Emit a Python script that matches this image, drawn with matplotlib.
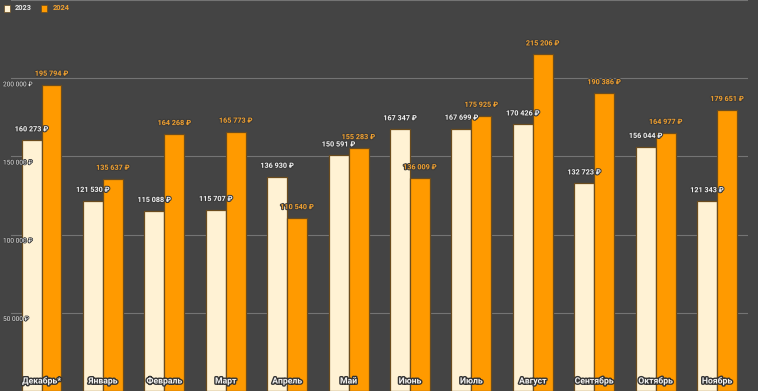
import matplotlib
matplotlib.use("Agg")
import matplotlib.pyplot as plt
import matplotlib.patheffects as pe
import matplotlib.transforms as mtransforms
import numpy as np

plt.rcParams['font.family'] = ['Roboto', 'DejaVu Sans']

months = ["Декабрь*", "Январь", "Февраль", "Март", "Апрель", "Май", "Июнь",
          "Июль", "Август", "Сентябрь", "Октябрь", "Ноябрь"]
series_names = ["2023", "2024"]
v2023 = [160273, 121530, 115088, 115707, 136930, 150591, 167347, 167699,
         170426, 132723, 156044, 121343]
v2024 = [195794, 135637, 164268, 165773, 110540, 155283, 136009, 175925,
         215206, 190386, 164977, 179651]
yticks = [50000, 100000, 150000, 200000, 250000]

BG = "#444444"
C23 = "#fff2d4"
C24 = "#ff9a00"
T23 = "#f2f2f2"
T24 = "#f0a030"
EDGE = "#6b4c1e"

def fmt(v):
    return f"{v:,}".replace(",", " ") + " ₽"

fig = plt.figure(figsize=(7.58, 3.91), dpi=100, facecolor=BG)
ax = fig.add_axes([10.8 / 758, 0.0, (747.7 - 10.8) / 758, 1.0])
ax.set_facecolor(BG)

x = np.arange(len(months))
w = 0.325
ax.bar(x - w / 2, v2023, w, color=C23, edgecolor=EDGE, linewidth=0.9, zorder=3)
ax.bar(x + w / 2, v2024, w, color=C24, edgecolor=EDGE, linewidth=0.9, zorder=3)

ax.set_xlim(-0.5, len(months) - 0.5)
ax.set_ylim(0, 250000)
for sp in ax.spines.values():
    sp.set_visible(False)
ax.set_xticks([])
ax.set_yticks([])

for t in yticks:
    ax.axhline(t, color="#747474", linewidth=0.8, zorder=1)

# y tick labels inside plot
tr = mtransforms.blended_transform_factory(fig.transFigure, ax.transData)
tstroke = [pe.withStroke(linewidth=1.0, foreground="#3a3a3a")]
for t in yticks[:-1]:
    ax.text(3 / 758, t - 2000, fmt(t), transform=tr, ha="left", va="top",
            fontsize=4.7, color="#e8e8e8", zorder=5, path_effects=tstroke)

stroke = [pe.withStroke(linewidth=1.5, foreground="#3a3a3a")]
off = 11 * 250000 / 391
for xi, v in zip(x, v2023):
    ax.text(xi - w / 2, v + off, fmt(v), ha="center", va="center",
            fontsize=5.2, fontweight="bold", color=T23, zorder=6,
            path_effects=stroke)
for xi, v in zip(x, v2024):
    ax.text(xi + w / 2, v + off, fmt(v), ha="center", va="center",
            fontsize=5.2, fontweight="bold", color=T24, zorder=6,
            path_effects=stroke)

# month labels at bottom
trm = mtransforms.blended_transform_factory(ax.transData, fig.transFigure)
mstroke = [pe.withStroke(linewidth=2.0, foreground="#333333")]
for xi, m in zip(x, months):
    ax.text(xi, 1 - 381 / 391, m, transform=trm, ha="center", va="center",
            fontsize=6.2, fontweight="bold", color="#f4f4f4", zorder=7,
            path_effects=mstroke)

# legend
fig.patches.append(plt.Rectangle((4 / 758, 1 - 11.5 / 391), 6 / 758, 6 / 391,
                                 transform=fig.transFigure, facecolor=C23,
                                 edgecolor=EDGE, linewidth=0.5))
fig.text(15 / 758, 1 - 8.5 / 391, series_names[0], fontsize=5.3, fontweight="bold",
         color="#e8e8e8", va="center", ha="left")
fig.patches.append(plt.Rectangle((41 / 758, 1 - 11.5 / 391), 6 / 758, 6 / 391,
                                 transform=fig.transFigure, facecolor=C24,
                                 edgecolor=EDGE, linewidth=0.5))
fig.text(53 / 758, 1 - 8.5 / 391, series_names[1], fontsize=5.3, fontweight="bold",
         color=T24, va="center", ha="left")

fig.savefig("out.png", dpi=100, facecolor=BG)
